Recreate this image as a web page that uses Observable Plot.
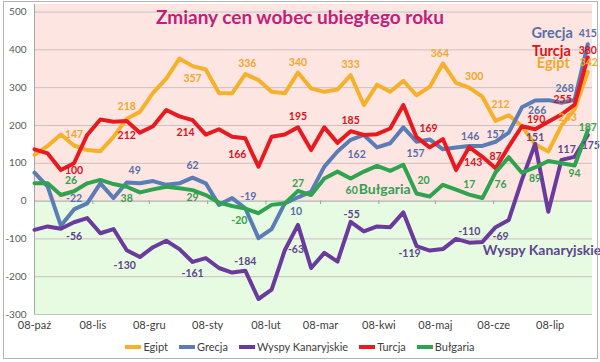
<!DOCTYPE html>
<html><head><meta charset="utf-8">
<script src="https://cdn.jsdelivr.net/npm/d3@7"></script>
<script src="https://cdn.jsdelivr.net/npm/@observablehq/plot@0.6"></script>
<style>
body{margin:0;background:#fff;font-family:Lato,"Open Sans",sans-serif;}
#wrap{position:relative;width:600px;height:362px;overflow:hidden;background:#fff}
#border{position:absolute;left:3px;top:1px;width:593px;height:356px;border:1px solid #b4b4b4;pointer-events:none}
#title{position:absolute;top:5px;left:0;width:600px;text-align:center;font-weight:bold;font-size:19px;color:#c0207a;font-family:Lato,sans-serif}
#chart{position:absolute;left:0;top:0}
#legend{position:absolute;top:340px;left:0;width:600px;display:flex;justify-content:center;gap:11px;font-size:11px;color:#404040;font-family:Lato,sans-serif}
.item{display:flex;align-items:center;gap:2px}
.sw{width:16px;height:4px}
</style></head><body>
<div id="wrap">
<div id="chart"></div>
<div id="title">Zmiany cen wobec ubiegłego roku</div>
<div id="legend"></div>
<div id="border"></div>
</div>
<script>
// ---- data ----
const dates = ["2007-10-08","2007-10-15","2007-10-22","2007-10-29","2007-11-05","2007-11-12","2007-11-19","2007-11-26",
"2007-12-03","2007-12-10","2007-12-17","2007-12-24","2007-12-31","2008-01-07","2008-01-14","2008-01-21","2008-01-28",
"2008-02-04","2008-02-11","2008-02-18","2008-02-25","2008-03-03","2008-03-10","2008-03-17","2008-03-24","2008-03-31",
"2008-04-07","2008-04-14","2008-04-21","2008-04-28","2008-05-05","2008-05-12","2008-05-19","2008-05-26",
"2008-06-02","2008-06-09","2008-06-16","2008-06-23","2008-06-30","2008-07-07","2008-07-14","2008-07-21","2008-07-28"];
const egipt    = [122,146,176,147,135,132,170,218,236,286,324,377,357,348,286,285,336,320,289,285,340,298,289,295,333,254,308,289,318,280,302,364,313,300,276,212,227,198,150,131,200,243,342];
const grecja   = [75,38,-65,-22,-6,47,8,49,47,53,43,47,62,47,-10,8,-19,-98,-74,-6,10,25,91,131,162,175,142,153,195,157,163,137,142,146,146,157,181,248,266,267,260,268,415];
const wyspy    = [-76,-67,-73,-56,-45,-85,-74,-130,-148,-122,-105,-127,-161,-151,-177,-189,-184,-259,-234,-130,-63,-177,-137,-160,-55,-80,-67,-69,-30,-119,-131,-127,-100,-110,-108,-69,-50,56,151,-28,109,117,175];
const turcja   = [137,126,82,100,175,216,210,212,181,198,241,224,214,176,190,170,166,91,170,176,195,135,195,154,185,175,177,192,254,169,142,164,82,143,117,87,144,198,190,210,229,255,380];
const bulgaria = [47,47,16,26,47,56,45,38,23,31,38,34,29,16,-4,-13,-20,-32,-10,-6,27,16,60,78,60,78,93,80,96,20,12,43,30,17,8,76,116,75,89,106,100,94,187];
const seriesNames = ["Egipt","Grecja","Wyspy Kanaryjskie","Turcja","Bułgaria"];
const seriesValues = [egipt, grecja, wyspy, turcja, bulgaria];
const tickDates = ["2007-10-08","2007-11-08","2007-12-08","2008-01-08","2008-02-08","2008-03-08","2008-04-08","2008-05-08","2008-06-08","2008-07-08"];
const yTicks = [-300,-200,-100,0,100,200,300,400,500];
const monthsPl = ["sty","lut","mar","kwi","maj","cze","lip","sie","wrz","paź","lis","gru"];

// ---- styles ----
const colors = ["#f6b12b","#5a7db6","#6a3a9c","#e81a1f","#2ea44f"];
const labelColors = ["#f0a82a","#5a6fa8","#5e468e","#d8141c","#35a04f"];
// label offsets per series: [index, dx, dy]
const labelCfg = [
  [[3,0,-11],[7,0,-12],[12,0,13],[16,2,-10],[20,0,-10],[24,0,-11],[31,-3,-10],[33,5,-11],[35,5,-16],[41,-7,8],[42,1,-9]],
  [[3,0,-11],[7,8,-12],[12,0,-12],[16,3,-12],[20,-2,14],[24,6,15],[29,-1,12],[33,1,-9],[35,0,-7],[38,2,10],[41,-10,-11],[42,0,-11]],
  [[3,0,14],[7,-2,15],[12,0,12],[16,0,-9],[20,-2,25],[24,1,-7],[29,-7,8],[33,0,-11],[35,5,9],[38,0,-6],[41,-8,-7],[42,3,11]],
  [[3,0,7],[7,0,15],[12,-7,12],[16,-8,16],[20,0,-11],[24,0,-11],[29,12,-9],[33,4,16],[35,0,-12],[38,1,-10],[41,-12,-5],[42,0,-7]],
  [[3,-3,-11],[7,0,12],[12,0,8],[16,-6,12],[20,0,-7],[24,1,12],[29,7,-13],[33,0,-10],[35,5,12],[38,0,11],[41,0,8],[42,0,-3]]
];

const parse = d3.utcParse("%Y-%m-%d");
const D = dates.map(parse);
const rows = [];
seriesNames.forEach((s, k) => seriesValues[k].forEach((v, i) => rows.push({date: D[i], value: v, series: s})));
const xStart = D[0], xEnd = new Date(Date.UTC(2008,6,30,12));
const fmt = d => String(d.getUTCDate()).padStart(2,"0") + "-" + monthsPl[d.getUTCMonth()];

const marks = [
  Plot.rect([0], {x1: xStart, x2: xEnd, y1: 0, y2: 520, fill: "#fde5e2"}),
  Plot.rect([0], {x1: xStart, x2: xEnd, y1: -300, y2: 0, fill: "#e6fbe2"}),
  Plot.ruleY(yTicks.filter(t => t !== 0), {x1: xStart, x2: xEnd, stroke: "#c9c0c0", strokeWidth: 1}),
  Plot.ruleX([xStart], {y1: -300, y2: 520, stroke: "#a6a6a6"}),
  Plot.ruleY([0], {x1: xStart, x2: xEnd, stroke: "#a0a0a0", strokeWidth: 1}),
  Plot.ruleX(tickDates.map(parse), {x: d => d, y1: 0, y2: -9, stroke: "#a0a0a0"}),
  Plot.axisY(yTicks, {tickSize: 0, tickPadding: 8, tickFormat: d => String(d), fontSize: 10, fill: "#595959", label: null}),
  Plot.axisX(tickDates.map(parse), {anchor: "bottom", tickSize: 0, tickPadding: 7, tickFormat: fmt, fontSize: 11, fill: "#404040", label: null}),
  Plot.line(rows, {x: "date", y: "value", z: "series", stroke: "series", strokeWidth: 4, strokeLinejoin: "round", strokeLinecap: "round"})
];
// value labels
labelCfg.forEach((cfg, k) => cfg.forEach(([i, dx, dy]) => {
  marks.push(Plot.text([{date: D[i], value: seriesValues[k][i]}], {x: "date", y: "value", text: d => String(d.value), dx, dy,
    fill: labelColors[k], fontSize: 10.5, fontWeight: "bold"}));
}));
// series name annotations (anchored to series points)
const nameAnno = [
  {k: 1, i: 42, dx: -15, dy: -11, size: 14.5, anchor: "end"},
  {k: 3, i: 42, dx: -17, dy: -6, size: 14.5, anchor: "end"},
  {k: 0, i: 42, dx: -18, dy: -8, size: 14.5, anchor: "end"},
  {k: 4, i: 24, dx: 8, dy: 11, size: 14, anchor: "start"},
  {k: 2, i: 36, dx: -26, dy: 31, size: 14, anchor: "start"}
];
nameAnno.forEach(a => marks.push(Plot.text([{date: D[a.i], value: seriesValues[a.k][a.i]}], {x: "date", y: "value", text: () => seriesNames[a.k],
  dx: a.dx, dy: a.dy, textAnchor: a.anchor, fill: labelColors[a.k], fontSize: a.size, fontWeight: "bold"})));

const chart = Plot.plot({
  width: 600, height: 336,
  marginLeft: 34, marginRight: 8, marginTop: 4, marginBottom: 22,
  style: {fontFamily: "Lato, 'Open Sans', sans-serif", background: "transparent"},
  x: {type: "utc", domain: [xStart, xEnd], axis: null, label: null},
  y: {domain: [-300, 520], axis: null, label: null},
  color: {domain: seriesNames, range: colors},
  marks
});
document.getElementById("chart").appendChild(chart);

const lg = document.getElementById("legend");
seriesNames.forEach((s, k) => {
  const it = document.createElement("div"); it.className = "item";
  const sw = document.createElement("div"); sw.className = "sw"; sw.style.background = colors[k];
  const t = document.createElement("span"); t.textContent = s;
  it.appendChild(sw); it.appendChild(t); lg.appendChild(it);
});
</script>
</body></html>
